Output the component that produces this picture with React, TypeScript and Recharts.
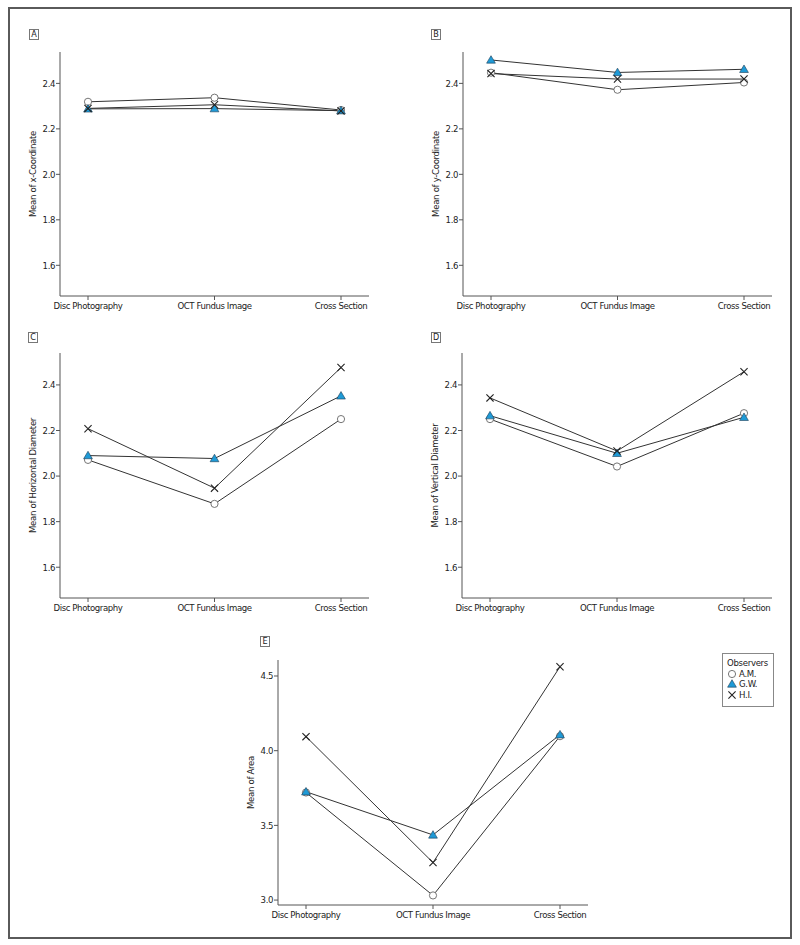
import React from "react";
import { LineChart, Line, XAxis, YAxis } from "recharts";

const categories = ["Disc Photography", "OCT Fundus Image", "Cross Section"];

// A: x-coordinate
const xCoordAM = [2.319, 2.337, 2.283];
const xCoordGW = [2.288, 2.289, 2.28];
const xCoordHI = [2.29, 2.306, 2.279];
// B: y-coordinate
const yCoordAM = [2.447, 2.372, 2.404];
const yCoordGW = [2.503, 2.448, 2.462];
const yCoordHI = [2.443, 2.419, 2.419];
// C: horizontal diameter
const horizAM = [2.071, 1.878, 2.25];
const horizGW = [2.09, 2.077, 2.352];
const horizHI = [2.208, 1.947, 2.476];
// D: vertical diameter
const vertAM = [2.25, 2.042, 2.276];
const vertGW = [2.265, 2.1, 2.258];
const vertHI = [2.343, 2.11, 2.458];
// E: area
const areaAM = [3.72, 3.031, 4.097];
const areaGW = [3.725, 3.436, 4.107];
const areaHI = [4.094, 3.251, 4.562];

const diamTicks = [1.6, 1.8, 2.0, 2.2, 2.4];
const areaTicks = [3.0, 3.5, 4.0, 4.5];

const FONT = '"Liberation Sans Narrow", "DejaVu Sans Condensed", "Roboto Condensed", "Arial Narrow", sans-serif';
const LINE = "#333";
const AXIS = "#555";
const BLUE = "#1f9ad6";

function CircleDot(p: any) {
  if (p.cx == null || p.cy == null) return null;
  return <circle key={p.index} cx={p.cx} cy={p.cy} r={3.6} fill="#fff" stroke="#666" strokeWidth={0.9} />;
}

function TriangleDot(p: any) {
  if (p.cx == null || p.cy == null) return null;
  const { cx, cy } = p;
  return (
    <polygon key={p.index} points={`${cx},${cy - 4.3} ${cx - 4.4},${cy + 3.2} ${cx + 4.4},${cy + 3.2}`}
      fill={BLUE} stroke="#1d3d55" strokeWidth={0.6} />
  );
}

function CrossDot(p: any) {
  if (p.cx == null || p.cy == null) return null;
  const { cx, cy } = p;
  const s = 3.6;
  return (
    <path key={p.index} d={`M${cx - s},${cy - s}L${cx + s},${cy + s}M${cx + s},${cy - s}L${cx - s},${cy + s}`}
      stroke="#222" strokeWidth={1.1} fill="none" />
  );
}

interface PanelProps {
  letter: string;
  plotX: number;
  plotY: number;
  plotW: number;
  plotH: number;
  boxX: number;
  boxY: number;
  am: number[];
  gw: number[];
  hi: number[];
  domain: [number, number];
  ticks: number[];
  yLabel: string;
}

function Panel({ letter, plotX, plotY, plotW, plotH, boxX, boxY, am, gw, hi, domain, ticks, yLabel }: PanelProps) {
  const data = categories.map((c, i) => ({ cat: c, am: am[i], gw: gw[i], hi: hi[i] }));
  const tickStyle = { fill: "#222", fontSize: 9.5, fontFamily: FONT, letterSpacing: -0.4 };
  return (
    <>
      <div style={{
        position: "absolute", left: boxX, top: boxY, width: 10, height: 11, boxSizing: "border-box",
        border: "1px solid #777", fontFamily: FONT, fontSize: 9, lineHeight: "9px", textAlign: "center", color: "#222",
      }}>{letter}</div>
      <div style={{ position: "absolute", left: plotX - 60, top: plotY - 20 }}>
        <LineChart width={plotW + 80} height={plotH + 60} data={data}
          margin={{ top: 20, right: 20, left: 0, bottom: 10 }}>
          <XAxis dataKey="cat" padding={{ left: 28, right: 28 }} height={30} interval={0}
            tickSize={4} tickMargin={2} stroke={AXIS} tick={tickStyle} />
          <YAxis type="number" domain={domain} ticks={ticks} allowDataOverflow width={60}
            tickSize={4} tickMargin={1} stroke={AXIS} tick={tickStyle}
            tickFormatter={(v: number) => v.toFixed(1)}
            label={{ value: yLabel, angle: -90, position: "insideLeft", offset: 33,
              style: { textAnchor: "middle", fontSize: 9.5, letterSpacing: -0.3, fontFamily: FONT, fill: "#222" } }} />
          <Line dataKey="am" stroke={LINE} strokeWidth={1} dot={CircleDot} isAnimationActive={false} />
          <Line dataKey="gw" stroke={LINE} strokeWidth={1} dot={TriangleDot} isAnimationActive={false} />
          <Line dataKey="hi" stroke={LINE} strokeWidth={1} dot={CrossDot} isAnimationActive={false} />
        </LineChart>
      </div>
    </>
  );
}

function ObserversLegend() {
  const row = { display: "flex", alignItems: "center", height: 10.5 };
  return (
    <div style={{
      position: "absolute", left: 722, top: 653, width: 52, height: 54, boxSizing: "border-box",
      border: "1px solid #888", fontFamily: FONT, fontSize: 9.5, letterSpacing: -0.3, color: "#222",
      padding: "4px 0 0 4px", lineHeight: "10.5px",
    }}>
      <div>Observers</div>
      <div style={row}>
        <svg width={10} height={10}><circle cx={5} cy={5} r={3.6} fill="#fff" stroke="#666" strokeWidth={0.9} /></svg>
        <span style={{ marginLeft: 2 }}>A.M.</span>
      </div>
      <div style={row}>
        <svg width={10} height={10}><polygon points="5,0.7 0.6,8.2 9.4,8.2" fill={BLUE} stroke="#1d3d55" strokeWidth={0.6} /></svg>
        <span style={{ marginLeft: 2 }}>G.W.</span>
      </div>
      <div style={row}>
        <svg width={10} height={10}><path d="M1.4,1.4L8.6,8.6M8.6,1.4L1.4,8.6" stroke="#222" strokeWidth={1.1} /></svg>
        <span style={{ marginLeft: 2 }}>H.I.</span>
      </div>
    </div>
  );
}

export default function App() {
  return (
    <div style={{ position: "absolute", left: 0, top: 0, width: 800, height: 945, background: "#fff" }}>
      <div style={{ position: "absolute", left: 8, top: 7, width: 784, height: 932, boxSizing: "border-box", border: "2px solid #5a5a5a" }} />
      <Panel letter="A" plotX={60} plotY={52} plotW={309} plotH={244} boxX={29} boxY={29}
        am={xCoordAM} gw={xCoordGW} hi={xCoordHI} domain={[1.465, 2.538]} ticks={diamTicks} yLabel="Mean of x-Coordinate" />
      <Panel letter="B" plotX={463} plotY={52} plotW={309} plotH={244} boxX={431} boxY={29}
        am={yCoordAM} gw={yCoordGW} hi={yCoordHI} domain={[1.465, 2.538]} ticks={diamTicks} yLabel="Mean of y-Coordinate" />
      <Panel letter="C" plotX={60} plotY={353} plotW={309} plotH={245} boxX={28} boxY={332}
        am={horizAM} gw={horizGW} hi={horizHI} domain={[1.465, 2.54]} ticks={diamTicks} yLabel="Mean of Horizontal Diameter" />
      <Panel letter="D" plotX={462} plotY={353} plotW={310} plotH={245} boxX={431} boxY={332}
        am={vertAM} gw={vertGW} hi={vertHI} domain={[1.465, 2.54]} ticks={diamTicks} yLabel="Mean of Vertical Diameter" />
      <Panel letter="E" plotX={278} plotY={660} plotW={310} plotH={245} boxX={260} boxY={636}
        am={areaAM} gw={areaGW} hi={areaHI} domain={[2.967, 4.607]} ticks={areaTicks} yLabel="Mean of Area" />
      <ObserversLegend />
    </div>
  );
}
